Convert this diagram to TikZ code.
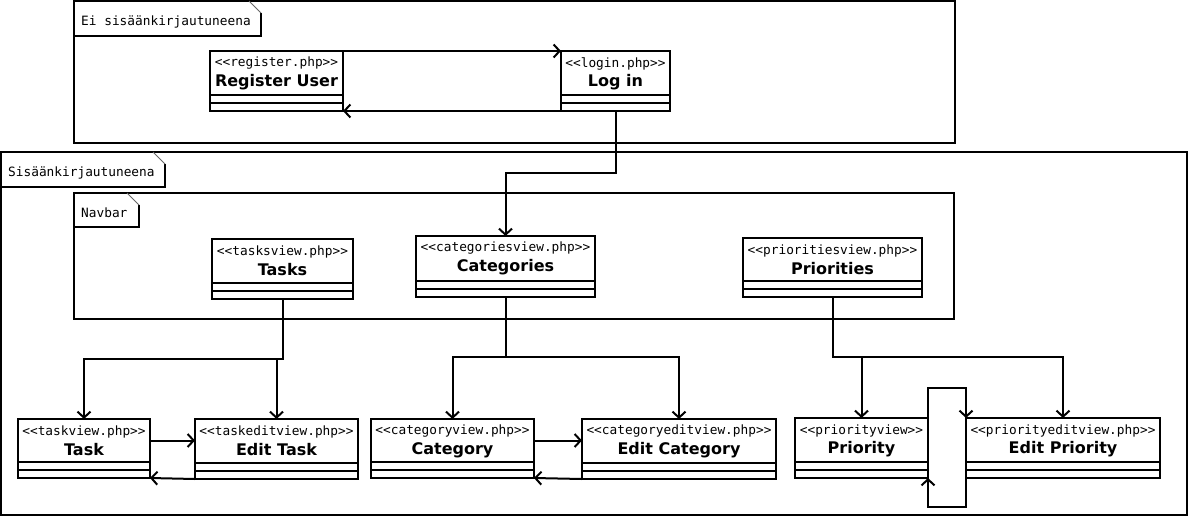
\documentclass[tikz,border=0pt]{standalone}
\usepackage{fontspec}
\setmainfont{DejaVu Sans}
\newfontfamily\monof{DejaVu Sans Mono}
\usetikzlibrary{arrows.meta,calc}
\tikzset{
  frame/.style={draw, line width=2pt},
  tabbox/.style={fill=white},
  tabedge/.style={draw, line width=2pt},
  fold/.style={draw, line width=1pt, black!60},
  cls/.style={draw, line width=2pt, fill=white, inner sep=0pt, outer sep=0pt, anchor=north west},
  comp/.style={line width=2pt},
  stereo/.style={font=\monof\fontsize{12.8}{14}\selectfont, inner sep=0pt},
  ctitle/.style={font=\bfseries\fontsize{16}{18}\selectfont, inner sep=0pt},
  tablabel/.style={font=\monof\fontsize{12.8}{14}\selectfont, inner sep=0pt, anchor=west},
  conn/.style={line width=2pt, -{Straight Barb[length=6pt,width=13pt,line width=2pt]}}
}
\newcommand\umlc[7]{%
  \node[cls, minimum width={#4pt-#2pt}, minimum height={#5pt-#3pt}] (#1) at (#2,#3) {};
  \draw[comp] ([yshift=16pt]#1.south west) -- ([yshift=16pt]#1.south east);
  \draw[comp] ([yshift=8pt]#1.south west) -- ([yshift=8pt]#1.south east);
  \node[stereo] (#1-st) at ([yshift=-12.5pt]#1.north) {#6};
  \node[ctitle] (#1-ti) at ([yshift=-31pt]#1.north) {#7};
}
\newcommand\umltab[6]{%
  \path[tabbox] (#2,#3) -- ({#4-12},#3) -- (#4,{#3+12}) -- (#4,#5) -- (#2,#5) -- cycle;
  \path[tabedge] (#4,{#3+12}) -- (#4,#5) -- (#2,#5) -- (#2,#3) -- ({#4-12},#3);
  \path[fold] ({#4-12},#3) -- (#4,{#3+12});
  \node[tablabel] (#1) at ({#2+7},{(#3+#5)/2+3}) {#6};
}
\begin{document}
\begin{tikzpicture}[x=1pt,y=-1pt]
\useasboundingbox (0,0) rectangle (1191,517);
% frames
\draw[frame] (74,1) rectangle (955,143);
\umltab{tabA}{74}{1}{261}{36}{Ei sisäänkirjautuneena}
\draw[frame] (1,152) rectangle (1187,515);
\umltab{tabB}{1}{152}{165}{187}{Sisäänkirjautuneena}
\draw[frame] (74,193) rectangle (954,319);
\umltab{tabC}{74}{193}{139}{227}{Navbar}
% classes
\umlc{reg}{210}{51}{343}{111}{<<register.php>>}{Register User}
\umlc{login}{561}{51}{670}{111}{<<login.php>>}{Log in}
\umlc{tasks}{212}{239}{353}{299}{<<tasksview.php>>}{Tasks}
\umlc{cats}{416}{236}{595}{297}{<<categoriesview.php>>}{Categories}
\umlc{prios}{743}{238}{922}{297}{<<prioritiesview.php>>}{Priorities}
\umlc{task}{18}{419}{150}{478}{<<taskview.php>>}{Task}
\umlc{etask}{195}{419}{358}{479}{<<taskeditview.php>>}{Edit Task}
\umlc{cat}{371}{419}{534}{478}{<<categoryview.php>>}{Category}
\umlc{ecat}{582}{419}{776}{479}{<<categoryeditview.php>>}{Edit Category}
\umlc{prio}{795}{418}{928}{478}{<<priorityview>>}{Priority}
\umlc{eprio}{966}{418}{1160}{478}{<<priorityeditview.php>>}{Edit Priority}
% connectors
\draw[conn] (reg.north east) -- (login.north west);
\draw[conn] (login.south west) -- (reg.south east);
\draw[conn] (login.south) -- ++(0,62) -| (cats.north);
\draw[conn] (tasks.south) -- ++(0,60) -| (task.north);
\draw[conn] (tasks.south) -- ++(0,60) -| (etask.north);
\draw[conn] (cats.south) -- ++(0,60) -| (cat.north);
\draw[conn] (cats.south) -- ++(0,60) -| (ecat.north);
\draw[conn] (prios.south) -- ++(0,60) -| (prio.north);
\draw[conn] (prios.south) -- ++(0,60) -| (eprio.north);
\draw[conn] ([yshift=8pt]task.east) -- ([yshift=8pt]task.east -| etask.west);
\draw[conn] (etask.south west) -- (task.south east);
\draw[conn] ([yshift=8pt]cat.east) -- ([yshift=8pt]cat.east -| ecat.west);
\draw[conn] (ecat.south west) -- (cat.south east);
\draw[conn] (prio.north east) -- ++(0,-30) -| (eprio.north west);
\draw[conn] (eprio.south west) -- ++(0,29) -| (prio.south east);
\end{tikzpicture}
\end{document}
